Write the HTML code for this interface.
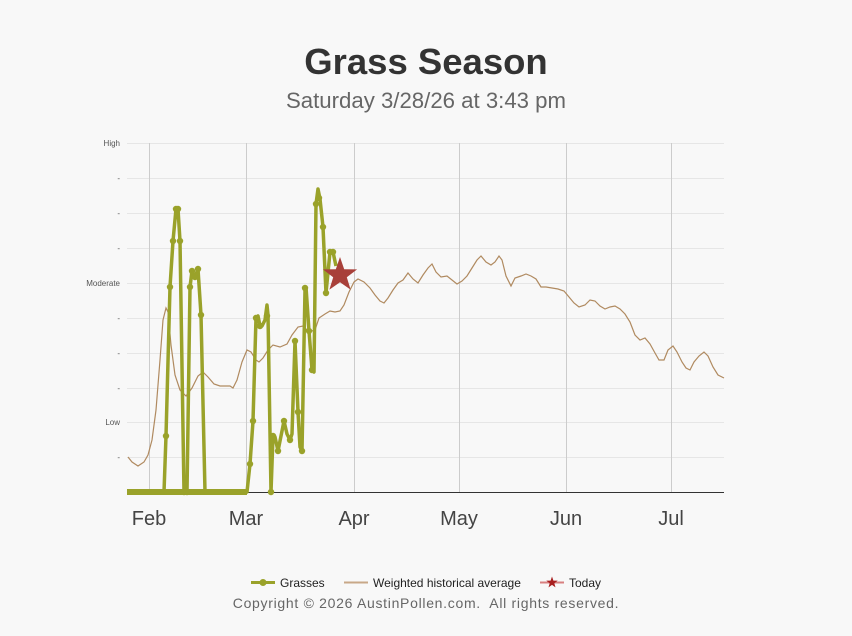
<!DOCTYPE html>
<html><head><meta charset="utf-8"><style>
html,body{margin:0;padding:0;background:#f8f8f8;}
svg{display:block;font-family:"Liberation Sans",sans-serif;}
</style></head><body>
<svg width="852" height="636" viewBox="0 0 852 636">
<rect width="852" height="636" fill="#f8f8f8"/>
<text x="426" y="74" text-anchor="middle" font-size="36.5" font-weight="bold" fill="#333">Grass Season</text>
<text x="426" y="108" text-anchor="middle" font-size="22.2" fill="#666">Saturday 3/28/26 at 3:43 pm</text>
<g stroke="#e6e6e6" stroke-width="1">
<line x1="127" x2="724" y1="143.5" y2="143.5"/><line x1="127" x2="724" y1="178.5" y2="178.5"/>
<line x1="127" x2="724" y1="213.5" y2="213.5"/><line x1="127" x2="724" y1="248.5" y2="248.5"/>
<line x1="127" x2="724" y1="283.5" y2="283.5"/><line x1="127" x2="724" y1="318.5" y2="318.5"/>
<line x1="127" x2="724" y1="353.5" y2="353.5"/><line x1="127" x2="724" y1="388.5" y2="388.5"/>
<line x1="127" x2="724" y1="422.5" y2="422.5"/><line x1="127" x2="724" y1="457.5" y2="457.5"/>
</g>
<g stroke="#ccc" stroke-width="1">
<line x1="149.5" x2="149.5" y1="143" y2="492"/><line x1="246.5" x2="246.5" y1="143" y2="492"/>
<line x1="354.5" x2="354.5" y1="143" y2="492"/><line x1="459.5" x2="459.5" y1="143" y2="492"/>
<line x1="566.5" x2="566.5" y1="143" y2="492"/><line x1="671.5" x2="671.5" y1="143" y2="492"/>
</g>
<line x1="127" x2="724" y1="492.5" y2="492.5" stroke="#333"/>
<g font-size="8" fill="#555" text-anchor="end">
<text x="120" y="146">High</text><text x="120" y="181">-</text><text x="120" y="216">-</text><text x="120" y="251">-</text>
<text x="120" y="286">Moderate</text><text x="120" y="321">-</text><text x="120" y="356">-</text><text x="120" y="391">-</text>
<text x="120" y="425">Low</text><text x="120" y="460">-</text>
</g>
<g font-size="20" fill="#444" text-anchor="middle">
<text x="149" y="525">Feb</text><text x="246" y="525">Mar</text><text x="354" y="525">Apr</text>
<text x="459" y="525">May</text><text x="566" y="525">Jun</text><text x="671" y="525">Jul</text>
</g>
<polyline fill="none" stroke="#b08a60" stroke-width="1.2" points="128,457 132,462 138,466 144,462 148,455 152,440 156,410 160,360 163,320 166,308 168,312 171,345 175,375 180,390 186,396 192,388 198,376 203,372 208,377 214,384 220,386 226,386 230,386 233,388 237,380 242,362 247,350 251,352 256,360 259,362 263,358 268,350 273,345 280,347 287,344 292,335 298,327 303,326 309,332 315,330 319,318 325,314 330,311 335,312 340,311 344,305 349,292 354,282 358,279 364,282 370,288 375,295 380,301 384,303 388,298 393,290 398,283 403,280 408,273 413,279 418,283 423,275 428,268 432,264 436,272 441,277 447,276 452,280 457,284 462,281 467,276 472,268 477,260 481,256 486,262 491,265 495,262 499,256 502,260 506,276 511,286 515,278 521,276 526,274 531,276 536,279 541,287 546,287 552,288 558,289 564,291 569,297 574,303 579,307 585,305 590,300 595,301 600,306 605,309 610,307 615,306 620,309 625,314 630,322 635,335 640,340 645,338 650,344 655,353 659,360 664,360 668,350 673,346 677,352 682,362 686,368 690,370 694,362 699,356 704,352 708,356 713,367 718,375 724,378"/>
<g>
<polyline fill="none" stroke="#9aa22a" stroke-width="3.5" stroke-linejoin="round" points="127,492 164,492 166,436 170,287 173,241 176,209 178,209 180,241 184,492 187,492 190,287 192,271 195,277 198,269 201,315 205,492 247,492 250,464 253,421 256,318 258,316 260,326 262,326 265,320 267,305 268,315 271,492 273,436 275,437 278,451 281,436 284,421 287,434 290,440 292,434 295,341 298,412 300,447 302,451 305,290 306,287 309,331 312,370 314,372 316,204 318,189 320,199 323,227 326,293 330,252 333,252 336,266"/>
<g fill="#9aa22a">
<circle cx="166" cy="436" r="3.2"/><circle cx="170" cy="287" r="3.2"/><circle cx="173" cy="241" r="3.2"/><circle cx="176" cy="209" r="3.2"/><circle cx="178" cy="209" r="3.2"/><circle cx="180" cy="241" r="3.2"/><circle cx="184" cy="492" r="3.2"/><circle cx="187" cy="492" r="3.2"/><circle cx="190" cy="287" r="3.2"/><circle cx="192" cy="271" r="3.2"/><circle cx="195" cy="277" r="3.2"/><circle cx="198" cy="269" r="3.2"/><circle cx="201" cy="315" r="3.2"/><circle cx="250" cy="464" r="3.2"/><circle cx="253" cy="421" r="3.2"/><circle cx="256" cy="318" r="3.2"/><circle cx="260" cy="326" r="3.2"/><circle cx="267" cy="316" r="3.2"/><circle cx="271" cy="492" r="3.2"/><circle cx="273" cy="436" r="3.2"/><circle cx="278" cy="451" r="3.2"/><circle cx="284" cy="421" r="3.2"/><circle cx="290" cy="440" r="3.2"/><circle cx="295" cy="341" r="3.2"/><circle cx="298" cy="412" r="3.2"/><circle cx="302" cy="451" r="3.2"/><circle cx="305" cy="288" r="3.2"/><circle cx="309" cy="331" r="3.2"/><circle cx="312" cy="370" r="3.2"/><circle cx="316" cy="204" r="3.2"/><circle cx="319" cy="198" r="3.2"/><circle cx="323" cy="227" r="3.2"/><circle cx="326" cy="293" r="3.2"/><circle cx="330" cy="252" r="3.2"/><circle cx="333" cy="252" r="3.2"/>
</g>
<line x1="127" x2="247" y1="492" y2="492" stroke="#9aa22a" stroke-width="6"/>
</g>
<polygon fill="#a8403a" transform="translate(340,275)" points="0,-18 4.2,-5.8 17.1,-5.6 6.8,2.2 10.6,14.6 0,7.2 -10.6,14.6 -6.8,2.2 -17.1,-5.6 -4.2,-5.8"/>
<g font-size="12" fill="#222">
<line x1="251" x2="275" y1="582.5" y2="582.5" stroke="#9aa22a" stroke-width="3"/><circle cx="263" cy="582.5" r="3.5" fill="#9aa22a"/>
<text x="280" y="587">Grasses</text>
<line x1="344" x2="368" y1="582.5" y2="582.5" stroke="#c8a888" stroke-width="2"/>
<text x="373" y="587">Weighted historical average</text>
<line x1="540" x2="564" y1="582.5" y2="582.5" stroke="#d88080" stroke-width="2"/>
<polygon fill="#a82020" transform="translate(552,582.5)" points="0,-6 1.4,-1.9 5.7,-1.9 2.3,0.7 3.5,4.9 0,2.4 -3.5,4.9 -2.3,0.7 -5.7,-1.9 -1.4,-1.9"/>
<text x="569" y="587">Today</text>
</g>
<text x="426" y="608" text-anchor="middle" font-size="14" fill="#666" letter-spacing="0.7" xml:space="preserve">Copyright © 2026 AustinPollen.com.  All rights reserved.</text>
</svg>
</body></html>
